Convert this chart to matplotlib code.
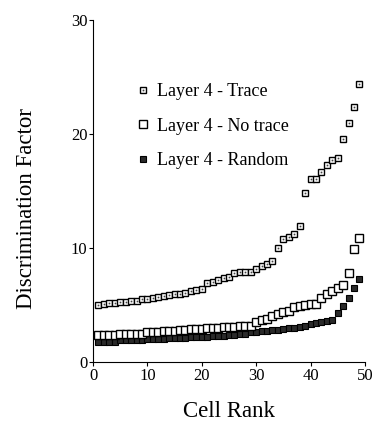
import numpy as np
import matplotlib.pyplot as plt

plt.rcParams['font.family'] = ['Liberation Serif', 'DejaVu Serif']

rank = np.arange(1, 50)

trace = [5.0, 5.1, 5.2, 5.2, 5.3, 5.3, 5.4, 5.4, 5.5, 5.5,
         5.6, 5.7, 5.8, 5.9, 6.0, 6.0, 6.1, 6.2, 6.3, 6.4,
         6.9, 7.0, 7.2, 7.4, 7.5, 7.8, 7.9, 7.9, 7.9, 8.2,
         8.4, 8.6, 8.9, 10.0, 10.8, 11.0, 11.2, 11.9, 14.8, 16.1,
         16.1, 16.7, 17.3, 17.7, 17.9, 19.6, 21.0, 22.4, 24.4]

no_trace = [2.4, 2.4, 2.4, 2.4, 2.5, 2.5, 2.5, 2.5, 2.5, 2.6,
            2.6, 2.6, 2.7, 2.7, 2.7, 2.8, 2.8, 2.9, 2.9, 2.9,
            3.0, 3.0, 3.0, 3.1, 3.1, 3.1, 3.2, 3.2, 3.2, 3.5,
            3.7, 3.8, 4.0, 4.2, 4.4, 4.5, 4.8, 4.9, 5.0, 5.1,
            5.1, 5.6, 6.0, 6.2, 6.5, 6.8, 7.8, 9.9, 10.9]

random_ = [1.8, 1.8, 1.8, 1.8, 1.9, 1.9, 1.9, 1.9, 1.9, 2.0,
           2.0, 2.0, 2.0, 2.1, 2.1, 2.1, 2.1, 2.2, 2.2, 2.2,
           2.2, 2.3, 2.3, 2.3, 2.4, 2.4, 2.5, 2.5, 2.6, 2.6,
           2.7, 2.7, 2.8, 2.8, 2.9, 3.0, 3.0, 3.1, 3.2, 3.3,
           3.4, 3.5, 3.6, 3.7, 4.3, 4.9, 5.6, 6.5, 7.3]

fig = plt.figure(figsize=(3.75, 4.26), dpi=100)
ax = fig.add_axes([0.248, 0.150, 0.725, 0.803])

h_rand, = ax.plot(rank, random_, 's', ms=5, mfc='#2a2a2a', mec='black', mew=0.8, ls='none')
h_no, = ax.plot(rank, no_trace, 's', ms=5.5, mfc='white', mec='black', mew=1.0, ls='none')
h_tr1, = ax.plot(rank, trace, 's', ms=5, mfc='white', mec='black', mew=1.0, ls='none')
h_tr2, = ax.plot(rank, trace, 's', ms=0.9, mfc='#444444', mec='#444444', mew=0.2, ls='none')

ax.legend([(h_tr1, h_tr2), h_no, h_rand],
          ['Layer 4 - Trace', 'Layer 4 - No trace', 'Layer 4 - Random'],
          loc='upper left', bbox_to_anchor=(0.13, 0.842), frameon=False,
          fontsize=13, handlelength=0.6, handletextpad=0.5, labelspacing=0.98,
          borderpad=0)

ax.set_xlim(0, 50)
ax.set_ylim(0, 30)
ax.set_xticks([0, 10, 20, 30, 40, 50])
ax.set_yticks([0, 10, 20, 30])
ax.tick_params(labelsize=12, length=3, width=0.8, pad=1)
ax.spines['top'].set_visible(False)
ax.spines['right'].set_visible(False)
ax.set_xlabel('Cell Rank', fontsize=16.5)
ax.set_ylabel('Discrimination Factor', fontsize=16.5)
ax.xaxis.set_label_coords(0.5, -0.115)
ax.yaxis.set_label_coords(-0.205, 0.45)

fig.savefig('out.png', dpi=100)
